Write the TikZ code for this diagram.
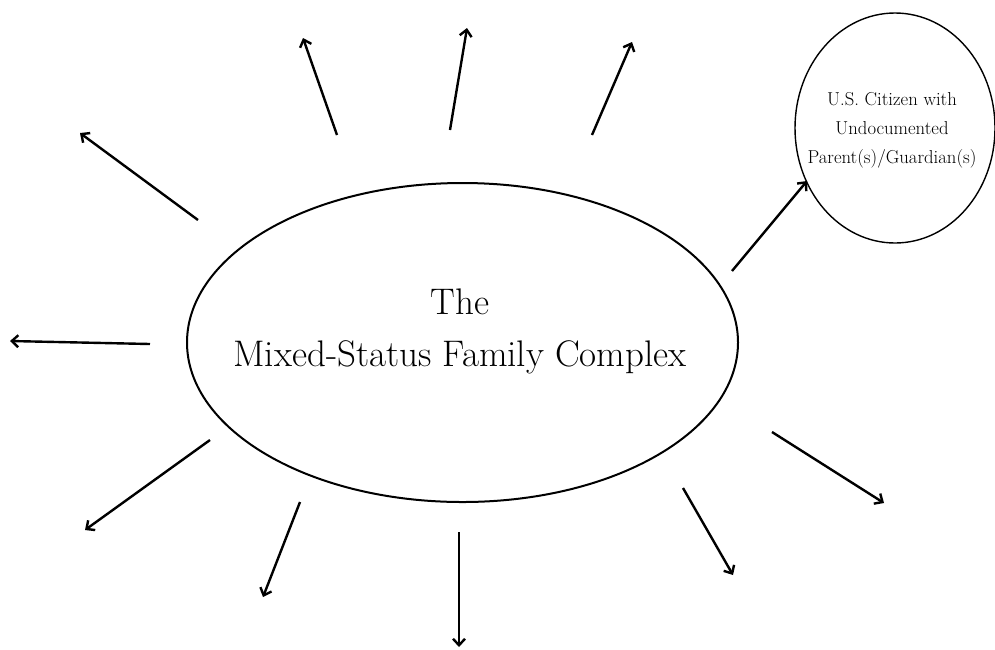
\documentclass[tikz,border=0pt]{standalone}
\usetikzlibrary{arrows.meta}
\begin{document}
\begin{tikzpicture}[x=1pt,y=-1pt,
  arr/.style={line width=2.4pt,-{Straight Barb[length=6.5pt,width=12pt,line width=2.4pt]}},
  bigtext/.style={align=center,font=\fontsize{37}{52}\selectfont},
  smalltext/.style={align=center,font=\fontsize{18.7}{29}\selectfont}]
\useasboundingbox (0,0) rectangle (995,649);
\draw[line width=2pt] (462.5,342.5) ellipse [x radius=275.5, y radius=159.5];
\node[bigtext] (main) at (460,331) {The\\Mixed-Status Family Complex};
\draw[line width=1.4pt] (895,128) ellipse [x radius=100, y radius=115];
\node[smalltext] (cit) at (892,130) {U.S. Citizen with\\Undocumented\\Parent(s)/Guardian(s)};
\coordinate (s1) at (337,135); \coordinate (t1) at (303,38);
\coordinate (s2) at (450,130); \coordinate (t2) at (467,28);
\coordinate (s3) at (592,135); \coordinate (t3) at (632,42);
\coordinate (s4) at (198,220); \coordinate (t4) at (80,133);
\coordinate (s5) at (150,344); \coordinate (t5) at (10,341);
\coordinate (s6) at (210,440); \coordinate (t6) at (85,530);
\coordinate (s7) at (300,502); \coordinate (t7) at (263,597);
\coordinate (s8) at (459,532); \coordinate (t8) at (459,647);
\coordinate (s9) at (683,488); \coordinate (t9) at (733,575);
\coordinate (s10) at (772,432); \coordinate (t10) at (884,503);
\coordinate (s11) at (732,271); \coordinate (t11) at (807,181);
\foreach \i in {1,...,11} {\draw[arr] (s\i) -- (t\i);}
\end{tikzpicture}
\end{document}
